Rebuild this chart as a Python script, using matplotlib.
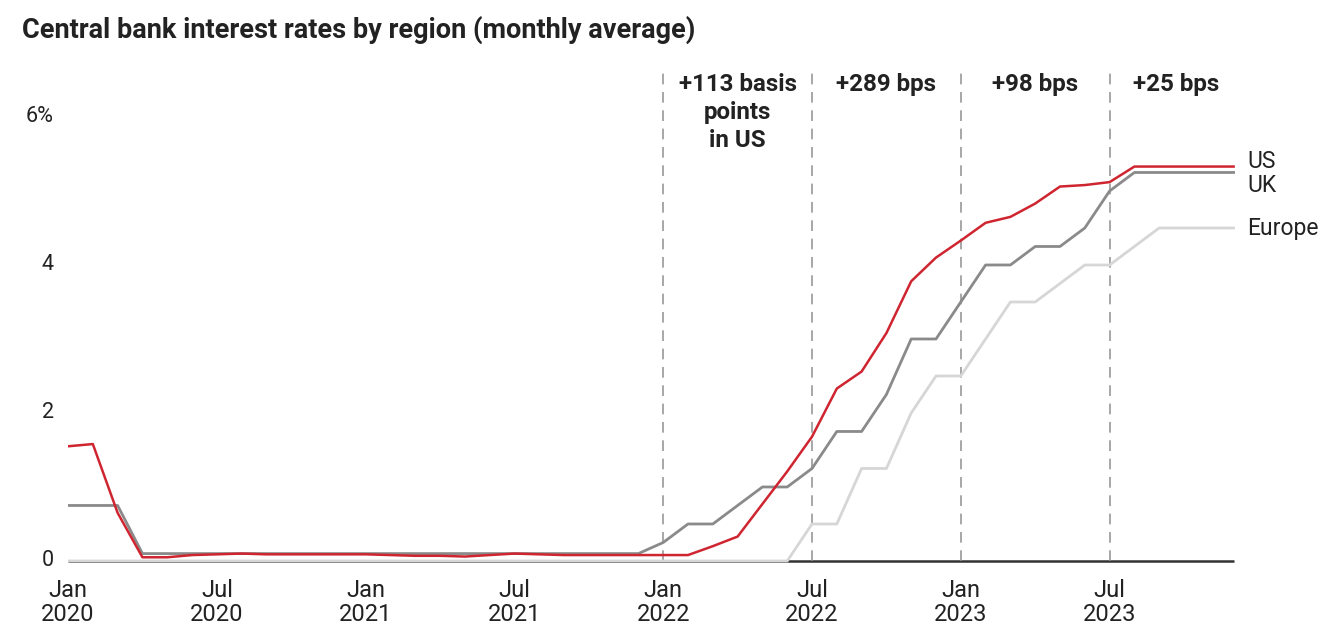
import matplotlib.pyplot as plt
from matplotlib.transforms import blended_transform_factory

plt.rcParams['font.family'] = ['Roboto', 'DejaVu Sans']

# Monthly averages, Jan 2020 .. Dec 2023 (index 0 = Jan 2020)
us = [1.55, 1.58, 0.65, 0.05, 0.05, 0.08, 0.09, 0.10, 0.09, 0.09, 0.09, 0.09,
      0.09, 0.08, 0.07, 0.07, 0.06, 0.08, 0.10, 0.09, 0.08, 0.08, 0.08, 0.08,
      0.08, 0.08, 0.20, 0.33, 0.77, 1.21, 1.68, 2.33, 2.56, 3.08, 3.78, 4.10,
      4.33, 4.57, 4.65, 4.83, 5.06, 5.08, 5.12, 5.33, 5.33, 5.33, 5.33, 5.33]
uk = [0.75, 0.75, 0.75, 0.10, 0.10, 0.10, 0.10, 0.10, 0.10, 0.10, 0.10, 0.10,
      0.10, 0.10, 0.10, 0.10, 0.10, 0.10, 0.10, 0.10, 0.10, 0.10, 0.10, 0.10,
      0.25, 0.50, 0.50, 0.75, 1.00, 1.00, 1.25, 1.75, 1.75, 2.25, 3.00, 3.00,
      3.50, 4.00, 4.00, 4.25, 4.25, 4.50, 5.00, 5.25, 5.25, 5.25, 5.25, 5.25]
europe = [0, 0, 0, 0, 0, 0, 0, 0, 0, 0, 0, 0,
          0, 0, 0, 0, 0, 0, 0, 0, 0, 0, 0, 0,
          0, 0, 0, 0, 0, 0, 0.50, 0.50, 1.25, 1.25, 2.00, 2.50,
          2.50, 3.00, 3.50, 3.50, 3.75, 4.00, 4.00, 4.25, 4.50, 4.50, 4.50, 4.50]

tick_pos = [0, 6, 12, 18, 24, 30, 36, 42]
tick_labels = ['Jan\n2020', 'Jul\n2020', 'Jan\n2021', 'Jul\n2021',
               'Jan\n2022', 'Jul\n2022', 'Jan\n2023', 'Jul\n2023']
y_ticks = [0, 2, 4, 6]
y_labels = ['0', '2', '4', '6%']

# half-year windows and the US change in each
period_bounds = [24, 30, 36, 42]
period_mid = [27, 33, 39, 44.7]
period_text = ['+113 basis\npoints\nin US', '+289 bps', '+98 bps', '+25 bps']

RED = '#cf2530'
UK_GREY = '#8a8a8a'
EU_GREY = '#d6d6d6'
TXT = '#222222'

fig = plt.figure(figsize=(13.34, 6.34), dpi=100)
ax = fig.add_axes([0.051, 0.1035, 0.8756, 0.7937])
ax.set_xlim(0, 47.1)
ax.set_ylim(-0.1, 6.7)
ax.axis('off')

x = list(range(len(us)))

# baseline
ax.plot([0, 47], [0, 0], color='#333333', lw=1.8, zorder=1, solid_capstyle='butt')

for b in period_bounds:
    ax.plot([b, b], [0, 6.66], color='#8f8f8f', lw=1.1, dashes=(7, 5), zorder=1)

ax.plot(x, europe, color=EU_GREY, lw=2.0, zorder=2)
ax.plot(x, uk, color=UK_GREY, lw=2.0, zorder=3)
ax.plot(x, us, color=RED, lw=1.8, zorder=4)

# end labels
ax.text(47.55, 5.40, 'US', fontsize=16.5, color=TXT, va='center', ha='left')
ax.text(47.55, 5.07, 'UK', fontsize=16.5, color=TXT, va='center', ha='left')
ax.text(47.55, 4.49, 'Europe', fontsize=16.5, color=TXT, va='center', ha='left')

# y labels
trans = blended_transform_factory(fig.transFigure, ax.transData)
for v, lab in zip(y_ticks, y_labels):
    ax.text(54 / 1334, v, lab, transform=trans, fontsize=15.5, color=TXT,
            ha='right', va='center')

# x labels
for p, lab in zip(tick_pos, tick_labels):
    ax.text(p, -0.25, lab, fontsize=17, color=TXT, ha='center', va='top',
            linespacing=1.05)

# period annotations
for m, t in zip(period_mid, period_text):
    ax.text(m, 6.60, t, fontsize=17.4, fontweight='bold', color=TXT,
            ha='center', va='top', linespacing=1.3)

fig.text(22 / 1334, 1 - 30 / 634, 'Central bank interest rates by region (monthly average)',
         fontsize=19.5, fontweight='bold', color=TXT, ha='left', va='center')

fig.savefig('out.png', dpi=100)
